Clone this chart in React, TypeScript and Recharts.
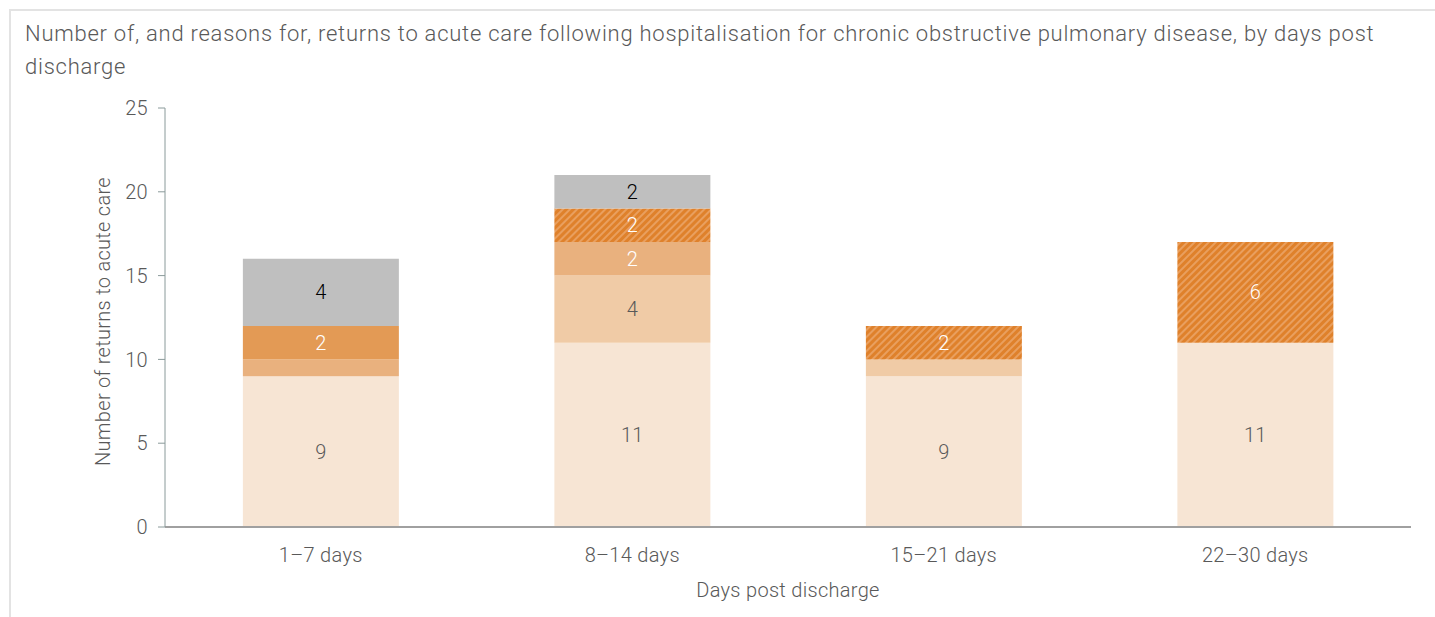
import { BarChart, Bar, XAxis, YAxis, LabelList } from "recharts";

const categories = ["1–7 days", "8–14 days", "15–21 days", "22–30 days"];
const reasonA = [9, 11, 9, 11];
const reasonB = [0, 4, 1, 0];
const reasonC = [1, 2, 0, 0];
const reasonD = [2, 0, 0, 0];
const reasonE = [0, 2, 2, 6];
const reasonF = [4, 2, 0, 0];
const yTicks = [0, 5, 10, 15, 20, 25];

const data = categories.map((name, i) => ({
  name,
  a: reasonA[i],
  b: reasonB[i],
  c: reasonC[i],
  d: reasonD[i],
  e: reasonE[i],
  f: reasonF[i],
}));

const font = "Roboto, 'Liberation Sans', sans-serif";
const grey = "#595959";
const fs = 20;
const txt = { fontSize: fs, fontFamily: font, fontWeight: 300, letterSpacing: 0.3 };

const showLabel = (v: any) => (Number(v) >= 2 ? v : "");

const series = [
  { key: "a", fill: "#f7e5d4", text: grey },
  { key: "b", fill: "#f0cba6", text: grey },
  { key: "c", fill: "#e9b17e", text: "#ffffff" },
  { key: "d", fill: "#e39a55", text: "#ffffff" },
  { key: "e", fill: "url(#hatch)", text: "#ffffff" },
  { key: "f", fill: "#bfbfbf", text: "#000000" },
];

export default function App() {
  return (
    <div
      style={{
        position: "absolute",
        left: 0,
        top: 0,
        width: 1435,
        height: 617,
        background: "#fff",
        fontFamily: font,
        fontWeight: 300,
        overflow: "hidden",
      }}
    >
      <div
        style={{
          position: "absolute",
          left: 9,
          top: 9,
          right: 0,
          bottom: 0,
          borderLeft: "2px solid #e3e3e3",
          borderTop: "2px solid #e3e3e3",
        }}
      />
      <div
        style={{
          position: "absolute",
          left: 25,
          top: 17,
          width: 1400,
          fontSize: 22,
          letterSpacing: 0.75,
          lineHeight: "33px",
          color: grey,
          whiteSpace: "nowrap",
        }}
      >
        Number of, and reasons for, returns to acute care following hospitalisation for chronic
        obstructive pulmonary disease, by days post
        <br />
        discharge
      </div>
      <div style={{ position: "absolute", left: 0, top: 0 }}>
        <BarChart
          width={1435}
          height={617}
          data={data}
          margin={{ top: 108, right: 24, bottom: 0, left: 0 }}
          barCategoryGap="25%"
        >
          <defs>
            <pattern
              id="hatch"
              width="5"
              height="5"
              patternUnits="userSpaceOnUse"
              patternTransform="rotate(45)"
            >
              <rect width="5" height="5" fill="#df812b" />
              <rect width="2" height="5" fill="#e99f5e" />
            </pattern>
          </defs>
          <XAxis
            dataKey="name"
            height={90}
            tickLine={false}
            tickSize={0}
            tickMargin={21}
            axisLine={{ stroke: "#a0a0a0", strokeWidth: 2 }}
            tick={{ fill: grey, ...txt }}
            label={{
              value: "Days post discharge",
              position: "insideBottom",
              offset: 20,
              fill: grey,
              ...txt,
            }}
          />
          <YAxis
            width={165}
            domain={[0, 25]}
            ticks={yTicks}
            tickSize={7}
            tickMargin={10}
            axisLine={{ stroke: "#8a9a9a" }}
            tickLine={{ stroke: "#8a9a9a" }}
            tick={{ fill: grey, ...txt }}
            label={{
              value: "Number of returns to acute care",
              angle: -90,
              position: "center",
              dx: 20,
              dy: 4,
              fill: grey,
              ...txt,
            }}
          />
          {series.map((s) => (
            <Bar key={s.key} dataKey={s.key} stackId="s" fill={s.fill} isAnimationActive={false}>
              <LabelList
                dataKey={s.key}
                position="center"
                formatter={showLabel}
                fill={s.text}
                {...txt}
              />
            </Bar>
          ))}
        </BarChart>
      </div>
    </div>
  );
}
